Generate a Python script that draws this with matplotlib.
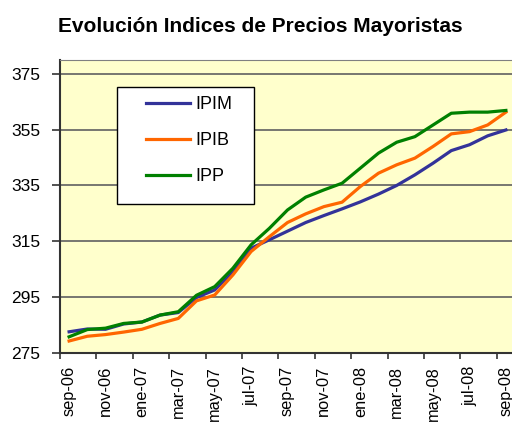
import numpy as np
import matplotlib
matplotlib.use('Agg')
import matplotlib.pyplot as plt
from matplotlib.patches import Rectangle

# meses sep-06 .. sep-08
meses = ['sep-06', 'oct-06', 'nov-06', 'dic-06', 'ene-07', 'feb-07', 'mar-07',
         'abr-07', 'may-07', 'jun-07', 'jul-07', 'ago-07', 'sep-07', 'oct-07',
         'nov-07', 'dic-07', 'ene-08', 'feb-08', 'mar-08', 'abr-08', 'may-08',
         'jun-08', 'jul-08', 'ago-08', 'sep-08']

ipim = [282.5, 283.5, 283.4, 285.3, 286.0, 288.5, 289.4, 294.8, 297.5, 304.1,
        312.5, 315.5, 318.6, 321.7, 324.2, 326.6, 329.1, 331.9, 335.0, 338.8,
        343.0, 347.5, 349.6, 352.8, 354.9]
ipib = [279.2, 280.9, 281.5, 282.4, 283.4, 285.5, 287.3, 293.6, 295.7, 302.9,
        311.3, 316.6, 321.7, 324.8, 327.4, 329.0, 334.6, 339.4, 342.4, 344.8,
        349.0, 353.5, 354.3, 356.7, 361.3]
ipp = [280.7, 283.3, 283.8, 285.5, 286.0, 288.5, 289.7, 295.6, 298.7, 305.3,
       313.7, 319.6, 326.2, 330.8, 333.4, 335.8, 341.2, 346.6, 350.5, 352.5,
       356.7, 360.9, 361.3, 361.3, 361.9]

series = [('IPIM', ipim, '#333399'), ('IPIB', ipib, '#FF6600'), ('IPP', ipp, '#008000')]

plt.rcParams['font.family'] = ['Liberation Sans', 'DejaVu Sans']

W, H = 512, 423
fig = plt.figure(figsize=(W / 100, H / 100), dpi=100)
ax = fig.add_axes([60 / W, 1 - 352.7 / H, 455 / W, (352.7 - 60) / H])
ax.set_facecolor('#FFFFCC')

x = np.arange(len(meses))
for nombre, valores, color in series:
    ax.plot(x, valores, '-', color=color, linewidth=2.3, label=nombre, zorder=3)

ax.set_xlim(-0.5, len(meses) - 0.5)
ax.set_ylim(275, 380)
ax.set_yticks(np.arange(275, 376, 20))
ax.yaxis.grid(True, color='#606060', linewidth=1.2)
ax.set_axisbelow(True)

ax.set_xticks(np.arange(-0.5, len(meses), 2))
ax.set_xticklabels([])
ax.set_xticks(x[::2], minor=True)
ax.set_xticklabels(meses[::2], minor=True, rotation=90, va='top', ha='center')
ax.tick_params(axis='x', which='major', direction='out', length=4, width=1.2, color='#333333')
ax.tick_params(axis='x', which='minor', length=0, pad=9.5, labelsize=11.8)
ax.tick_params(axis='y', direction='out', length=6, width=1.2, color='#333333', pad=8, labelsize=12.5)

for s in ['left', 'bottom']:
    ax.spines[s].set_color('#333333')
    ax.spines[s].set_linewidth(1.5)
ax.spines['top'].set_color('#808080')
ax.spines['right'].set_visible(False)

# cuadro de la leyenda (en pixeles de la figura)
fig.patches.append(Rectangle((116.7 / W, 1 - 204 / H), (254 - 116.7) / W, (204 - 87.3) / H,
                             transform=fig.transFigure, facecolor='white',
                             edgecolor='black', linewidth=1.0, zorder=5))
leg = fig.legend(*ax.get_legend_handles_labels(), loc='upper left',
                 bbox_to_anchor=(146 / W, 1 - 96 / H), fontsize=13, frameon=False,
                 handlelength=2.45, handletextpad=0.3, labelspacing=1.05,
                 borderpad=0, borderaxespad=0)
leg.set_zorder(6)

fig.text(0.508, 1 - 26 / H, 'Evolución Indices de Precios Mayoristas',
         ha='center', va='center', fontsize=15, fontweight='bold')

fig.savefig('out.png', dpi=100)
